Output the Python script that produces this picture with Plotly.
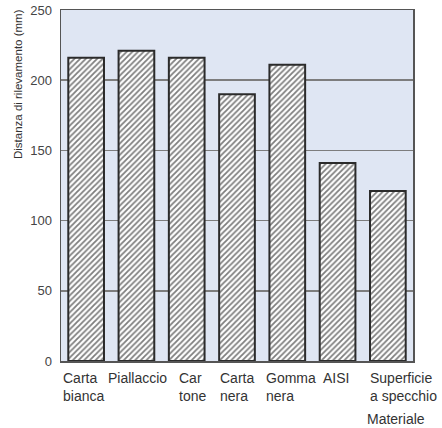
import plotly.graph_objects as go

categories = ["Carta<br>bianca", "Piallaccio", "Car<br>tone", "Carta<br>nera",
              "Gomma<br>nera", "AISI", "Superficie<br>a specchio"]
values = [216, 221, 216, 190, 211, 141, 121]
y_ticks = [0, 50, 100, 150, 200, 250]
y_title = "Distanza di rilevamento (mm)"
x_title = "Materiale"

# per-label horizontal nudges (layout only)
label_shift = [-3, 1, 6, 0, 4, -2, 16]

idx = list(range(len(categories)))

fig = go.Figure()
fig.add_trace(go.Bar(
    x=idx, y=values,
    marker=dict(color="white",
                line=dict(color="#2b2b2b", width=2),
                pattern=dict(shape="/", fgcolor="#000000", bgcolor="white",
                             size=4, solidity=0.45)),
    width=0.71,
    hoverinfo="skip",
))

for i, (lab, sh) in enumerate(zip(categories, label_shift)):
    fig.add_annotation(x=i, y=0, xref="x", yref="paper", text=lab,
                       showarrow=False, xanchor="center", yanchor="top",
                       align="left", yshift=-7, xshift=sh,
                       font=dict(family="Liberation Sans, Arial, sans-serif",
                                 size=14, color="#333333"))

fig.add_annotation(x=0.953, y=-0.138, xref="paper", yref="paper", text=x_title,
                   showarrow=False, xanchor="center", yanchor="top",
                   font=dict(family="Liberation Sans, Arial, sans-serif",
                             size=14, color="#333333"))
fig.add_annotation(x=-0.122, y=1.0, xref="paper", yref="paper", text=y_title,
                   showarrow=False, textangle=-90, xanchor="center", yanchor="top",
                   yshift=3,
                   font=dict(family="Liberation Sans, Arial, sans-serif",
                             size=11.5, color="#333333"))

fig.update_layout(
    width=442, height=428,
    margin=dict(l=61, r=29, t=10, b=67, autoexpand=False),
    paper_bgcolor="white",
    plot_bgcolor="#dfe6f3",
    showlegend=False,
    font=dict(family="Liberation Sans, Arial, sans-serif", color="#444444"),
)
fig.update_xaxes(range=[-0.5, len(categories) - 0.5], showticklabels=False,
                 showgrid=False, zeroline=False, showline=True, mirror=True,
                 linecolor="#555555", linewidth=1.5, ticks="", automargin=False)
fig.update_yaxes(range=[0, 250], tickvals=y_ticks, showgrid=True,
                 gridcolor="#7d7d7d", gridwidth=1.5, zeroline=False,
                 showline=True, mirror=True, linecolor="#555555", linewidth=1.5,
                 ticks="", ticklabelstandoff=5, automargin=False,
                 tickfont=dict(size=13, color="#444444"))

fig.write_html("out.html",
               config={"displayModeBar": False, "staticPlot": True},
               post_script="document.body.style.margin='0';"
                           "document.body.style.overflow='hidden';")
